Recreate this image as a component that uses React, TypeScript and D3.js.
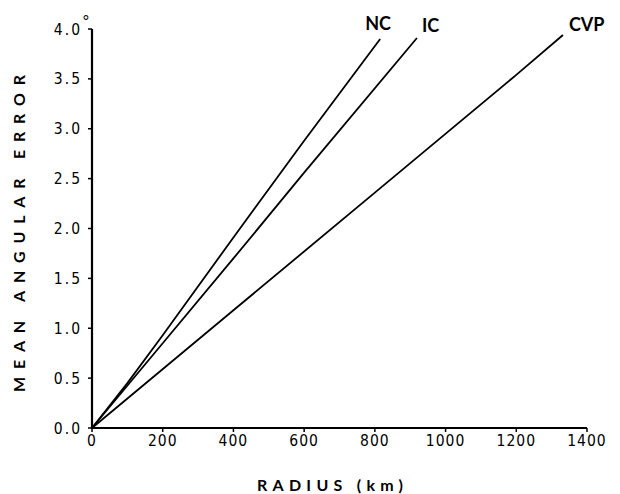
import React from "react";
import * as d3 from "d3";

const xTicks = [0, 200, 400, 600, 800, 1000, 1200, 1400];
const yTicks = [0, 0.5, 1.0, 1.5, 2.0, 2.5, 3.0, 3.5, 4.0];

const ncRadius = [0, 100, 200, 400, 600, 815];
const ncError = [0, 0.45, 0.93, 1.91, 2.88, 3.9];
const icRadius = [0, 200, 400, 600, 919];
const icError = [0, 0.85, 1.7, 2.56, 3.91];
const cvpRadius = [0, 400, 800, 1200, 1332];
const cvpError = [0, 1.18, 2.36, 3.54, 3.94];

const seriesNames = ["NC", "IC", "CVP"];

const W = 620;
const H = 494;
const x = d3.scaleLinear().domain([0, 1400]).range([92, 587]);
const y = d3.scaleLinear().domain([0, 4]).range([428, 29]);

const numFont = "'Liberation Sans Narrow', 'DejaVu Sans Condensed', sans-serif";
const titleFont = "Lato, 'Open Sans', sans-serif";

export default function App() {
  const series = [
    { name: seriesNames[0], r: ncRadius, e: ncError, dx: -15, dy: -9 },
    { name: seriesNames[1], r: icRadius, e: icError, dx: 5, dy: -6 },
    { name: seriesNames[2], r: cvpRadius, e: cvpError, dx: 6, dy: -4 },
  ];
  const line = d3
    .line<[number, number]>()
    .x((d) => x(d[0]))
    .y((d) => y(d[1]));

  return (
    <svg
      width={W}
      height={H}
      style={{ position: "absolute", left: 0, top: 0, background: "#fff" }}
    >
      <rect width={W} height={H} fill="#fff" />
      {/* data lines */}
      {series.map((s) => {
        const pts = s.r.map((r, i) => [r, s.e[i]] as [number, number]);
        const last = pts[pts.length - 1];
        return (
          <g key={s.name}>
            <path d={line(pts) || ""} fill="none" stroke="#000" strokeWidth={1.8} />
            <text
              x={x(last[0]) + s.dx}
              y={y(last[1]) + s.dy}
              fontFamily={titleFont}
              fontWeight="bold"
              fontSize={18}
              fill="#000"
            >
              {s.name}
            </text>
          </g>
        );
      })}
      {/* y axis */}
      <line x1={x(0)} x2={x(0)} y1={y(0)} y2={y(4)} stroke="#000" strokeWidth={2.2} />
      {yTicks.map((t) => (
        <g key={"y" + t}>
          <line x1={x(0) - 4} x2={x(0)} y1={y(t)} y2={y(t)} stroke="#000" strokeWidth={1.5} />
          <text
            x={x(0) - 10}
            y={y(t)}
            dy="0.36em"
            textAnchor="end"
            fontFamily={numFont}
            fontSize={15.5}
            letterSpacing={2}
            fill="#000"
          >
            {t.toFixed(1)}
          </text>
        </g>
      ))}
      <text
        x={82.5}
        y={27}
        fontFamily="'Liberation Sans', sans-serif"
        fontSize={17}
        fill="#000"
      >
        °
      </text>
      {/* x axis */}
      <line x1={x(0)} x2={x(1400)} y1={y(0)} y2={y(0)} stroke="#000" strokeWidth={2.2} />
      {xTicks.map((t) => (
        <g key={"x" + t}>
          <line x1={x(t)} x2={x(t)} y1={y(0)} y2={y(0) + 4} stroke="#000" strokeWidth={1.5} />
          <text
            x={x(t)}
            y={y(0) + 18}
            textAnchor="middle"
            fontFamily={numFont}
            fontSize={15.5}
            letterSpacing={1}
            fill="#000"
          >
            {t}
          </text>
        </g>
      ))}
      {/* axis titles */}
      <text
        x={330}
        y={491}
        textAnchor="middle"
        fontFamily={titleFont}
        fontWeight="bold"
        fontSize={16}
        textLength={146}
        lengthAdjust="spacing"
        fill="#000"
      >
        RADIUS (km)
      </text>
      <text
        transform={`translate(25, 233.5) rotate(-90)`}
        textAnchor="middle"
        fontFamily={titleFont}
        fontWeight="bold"
        fontSize={16}
        textLength={317}
        lengthAdjust="spacing"
        fill="#000"
      >
        MEAN ANGULAR ERROR
      </text>
    </svg>
  );
}
